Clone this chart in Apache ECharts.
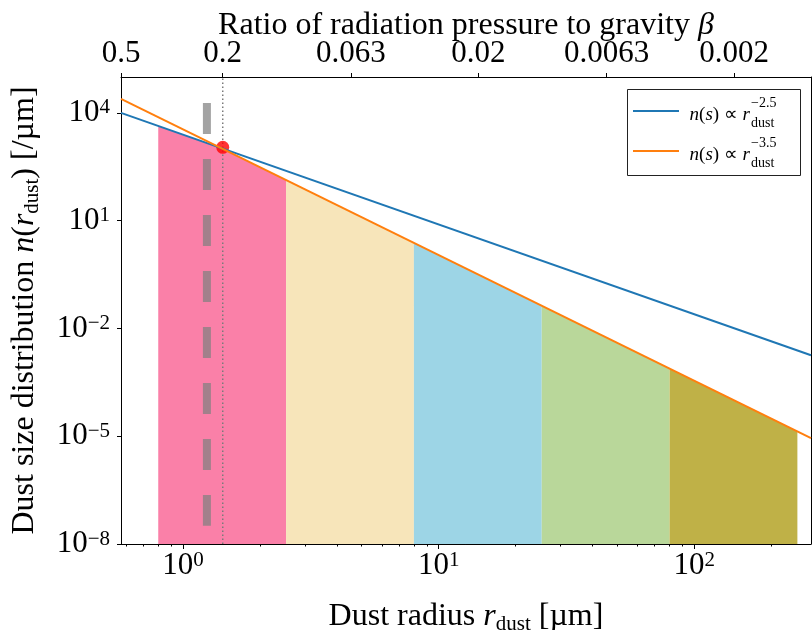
<!DOCTYPE html>
<html><head><meta charset="utf-8">
<script src="https://cdn.jsdelivr.net/npm/echarts@6/dist/echarts.min.js"></script>
<style>html,body{margin:0;padding:0;background:#fff}#c{width:812px;height:630px}</style>
</head><body><div id="c"></div>
<script>
// ---- data ----
const rRange = [0.572, 286];          // dust radius axis extent [um]
const betaRange = [0.001, 0.5];       // beta axis extent (top, reversed)
const yRange = [1e-8, 1e5];
const xMajor = [1, 10, 100];
const xMinor = [0.6,0.7,0.8,0.9,2,3,4,5,6,7,8,9,20,30,40,50,60,70,80,90,200];
const betaTicks = [0.5, 0.2, 0.063, 0.02, 0.0063, 0.002];
const betaLabels = ['0.5','0.2','0.063','0.02','0.0063','0.002'];
const yTicks = [1e-8, 1e-5, 1e-2, 1e1, 1e4];
const blueLine = [[0.572, 1.0e4], [286, 1.8e-3]];     // n ∝ r^-2.5
const orangeLine = [[0.572, 2.45e4], [286, 8.9e-6]];  // n ∝ r^-3.5
const bandPink = [[0.8, 4270], [1.43, 1000], [2.53, 136]];
const bandWheat = [[2.53, 136], [8, 2.41]];
const bandBlue = [[8, 2.41], [25.3, 0.043]];
const bandGreen = [[25.3, 0.043], [80, 7.6e-4]];
const bandOlive = [[80, 7.6e-4], [253, 1.36e-5]];
const redDot = [[1.43, 1100]];
const dottedLine = [[1.43, 1e-8], [1.43, 1e5]];
const dashedLine = [[1.24, 1.9e4], [1.24, 3.2e-8]];

const FONT = 'Liberation Serif';
const chart = echarts.init(document.getElementById('c'), null, {renderer:'canvas'});

function powLabel(v){
  const e = Math.round(Math.log10(v));
  return '{b|10}{s|' + (e < 0 ? '\u2212' + (-e) : e) + '}';
}
const powRich = {
  b:{fontFamily:FONT, fontSize:31, lineHeight:31, verticalAlign:'bottom', color:'#000'},
  s:{fontFamily:FONT, fontSize:21, lineHeight:21, verticalAlign:'top', padding:[0,0,25,0], color:'#000'}
};
const nameRich = {
  r:{fontFamily:FONT, fontSize:32, lineHeight:36, color:'#000'},
  i:{fontFamily:FONT, fontSize:32, lineHeight:36, fontStyle:'italic', color:'#000'},
  sub:{fontFamily:FONT, fontSize:21, lineHeight:21, verticalAlign:'bottom', color:'#000'}
};
function band(data, color){
  return {type:'line', xAxisIndex:0, yAxisIndex:0, data:data, symbol:'none', showSymbol:false,
    lineStyle:{width:0}, areaStyle:{color:color, opacity:1, origin:'start'}, z:1, silent:true};
}
const axisLineStyle = {show:true, lineStyle:{color:'#000', width:1}};

function legendMain(y, supTxt){
  return [
    {type:'text', x:750, y:y, style:{text:'{i|n}{r|(}{i|s}{r|) ∝ }{i|r}', verticalAlign:'middle', align:'right',
      rich:{i:{fontFamily:FONT, fontSize:19, fontStyle:'italic', fill:'#000'}, r:{fontFamily:FONT, fontSize:19, fill:'#000'}}}},
    {type:'text', x:751, y:y-12, style:{text:supTxt, fontFamily:FONT, fontSize:14, fill:'#000', verticalAlign:'middle', align:'left'}},
    {type:'text', x:751, y:y+8, style:{text:'dust', fontFamily:FONT, fontSize:14, fill:'#000', verticalAlign:'middle', align:'left'}}
  ];
}

const option = {
  animation:false,
  grid:{left:121, right:1, top:77, bottom:86, containLabel:false, outerBoundsMode:'none'},
  xAxis:[
    {type:'log', min:rRange[0], max:rRange[1], position:'bottom', gridIndex:0,
     axisLine:axisLineStyle, splitLine:{show:false},
     axisTick:{show:true, inside:false, length:5, customValues:xMajor, lineStyle:{color:'#000'}},
     axisLabel:{show:true, margin:6, customValues:xMajor, formatter:powLabel, rich:powRich},
     name:'{r|Dust radius }{i|r}{sub|dust}{r| [µm]}', nameLocation:'middle', nameGap:55, nameMoveOverlap:false,
     nameTextStyle:{rich:nameRich}},
    {type:'log', min:rRange[0], max:rRange[1], position:'bottom', gridIndex:0,
     axisLine:{show:false}, splitLine:{show:false},
     axisTick:{show:true, inside:false, length:2.5, customValues:xMinor, lineStyle:{color:'#000'}},
     axisLabel:{show:false}},
    {type:'log', min:betaRange[0], max:betaRange[1], inverse:true, position:'top', gridIndex:0,
     axisLine:axisLineStyle, splitLine:{show:false},
     axisTick:{show:true, inside:false, length:4, customValues:betaTicks, lineStyle:{color:'#000'}},
     axisLabel:{show:true, margin:8, customValues:betaTicks, fontFamily:FONT, fontSize:31, color:'#000',
       formatter:function(v){
         let best = 0, d = Infinity;
         betaTicks.forEach(function(t, k){ const dd = Math.abs(Math.log(t) - Math.log(v)); if (dd < d){ d = dd; best = k; } });
         return betaLabels[best];
       }},
     name:'{r|Ratio of radiation pressure to gravity }{i|β}', nameLocation:'middle', nameGap:33, nameMoveOverlap:false,
     nameTextStyle:{rich:nameRich}}
  ],
  yAxis:[
    {type:'log', min:yRange[0], max:yRange[1], position:'left', gridIndex:0,
     axisLine:axisLineStyle, splitLine:{show:false},
     axisTick:{show:true, inside:false, length:4, customValues:yTicks, lineStyle:{color:'#000'}},
     axisLabel:{show:true, margin:11, customValues:yTicks, formatter:powLabel, rich:powRich},
     name:'{r|Dust size distribution }{i|n}{r|(}{i|r}{sub|dust}{r|) [/µm]}', nameLocation:'middle', nameGap:78, nameMoveOverlap:false,
     nameTextStyle:{rich:nameRich}},
    {type:'log', min:yRange[0], max:yRange[1], position:'right', gridIndex:0,
     axisLine:axisLineStyle, axisTick:{show:false}, axisLabel:{show:false}, splitLine:{show:false}}
  ],
  series:[
    band(bandPink, '#FA80A8'),
    band(bandWheat, '#F7E5BA'),
    band(bandBlue, '#9DD5E6'),
    band(bandGreen, '#B9D79A'),
    band(bandOlive, '#BFB147'),
    {type:'line', data:dashedLine, symbol:'none', showSymbol:false, z:2, silent:true,
     lineStyle:{color:'rgba(128,128,128,0.72)', width:8, type:[31,25], cap:'butt'}},
    {type:'line', data:dottedLine, symbol:'none', showSymbol:false, z:2, silent:true,
     lineStyle:{color:'#7a7a7a', width:1.5, type:[1.5,2.5]}},
    {type:'scatter', data:redDot, symbol:'circle', symbolSize:13, z:3, silent:true,
     itemStyle:{color:'#ff0000'}},
    {type:'line', data:blueLine, symbol:'none', showSymbol:false, z:5, silent:true,
     lineStyle:{color:'#1f77b4', width:2}},
    {type:'line', data:orangeLine, symbol:'none', showSymbol:false, z:6, silent:true,
     lineStyle:{color:'#ff7f0e', width:2}}
  ],
  graphic:[
    {type:'group', z:100, children:[
      {type:'rect', shape:{x:627.5, y:89.5, width:173, height:86}, style:{fill:'#fff', stroke:'#222', lineWidth:1}},
      {type:'line', shape:{x1:633, y1:111, x2:679, y2:111}, style:{stroke:'#1f77b4', lineWidth:2}},
      {type:'line', shape:{x1:633, y1:151, x2:679, y2:151}, style:{stroke:'#ff7f0e', lineWidth:2}}
    ].concat(legendMain(115, '\u22122.5'), legendMain(155, '\u22123.5'))}
  ]
};
chart.setOption(option);
</script>
</body></html>
